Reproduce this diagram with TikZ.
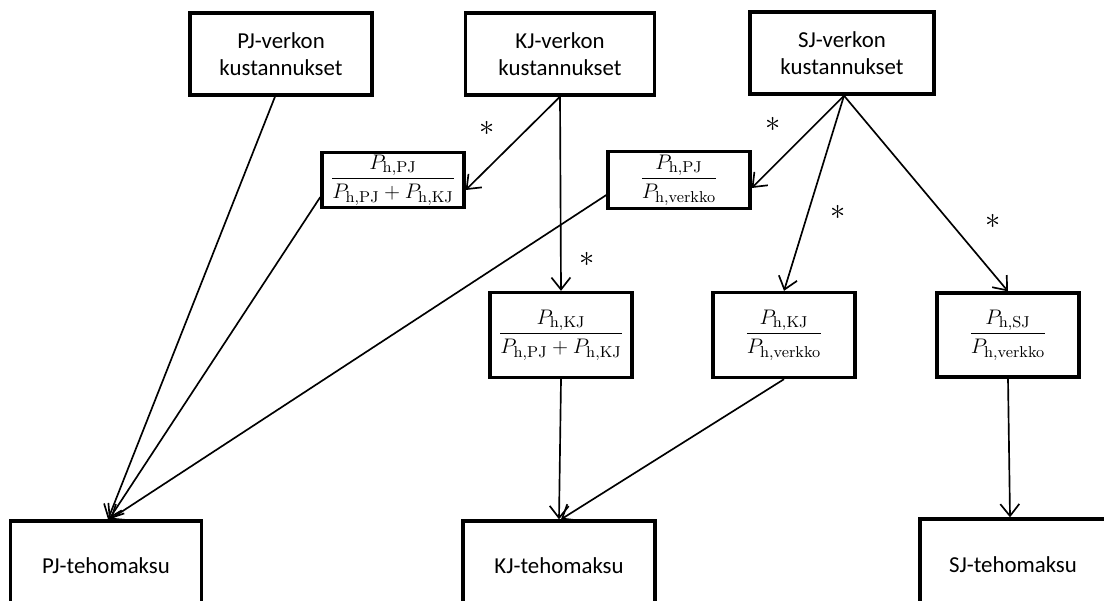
\documentclass[tikz,border=0pt]{standalone}
\usepackage[no-math]{fontspec}
\setmainfont{Carlito}
\usepackage{amsmath}
\usetikzlibrary{arrows.meta,calc}
\newdimen\pxu
\pxu=0.02cm

\begin{document}
\begin{tikzpicture}[
  x={(0.02cm,0)}, y={(0,-0.02cm)},
  every node/.style={font=\fontsize{13}{15.5}\selectfont, inner sep=1pt},
  box/.style={draw, line width=1.9pt, align=center, minimum height=82\pxu},
  fracbox/.style={draw, line width=1.9pt, minimum width=142\pxu},
  link/.style={draw, line width=0.95pt, -{Straight Barb[length=2.4mm,width=3.8mm]}},
  star/.style={font=\LARGE}
]
\clip (0,0) rectangle (1104,600);
% top row: costs
\node[box, minimum width=182\pxu] (pjcost) at (281,54) {PJ-verkon\\kustannukset};
\node[box, minimum width=189\pxu] (kjcost) at (560,54) {KJ-verkon\\kustannukset};
\node[box, minimum width=184\pxu] (sjcost) at (842,53) {SJ-verkon\\kustannukset};
% shares
\node[fracbox, minimum height=55\pxu] (pjshare) at (393,180)
  {$\dfrac{P_{\mathrm{h,PJ}}}{P_{\mathrm{h,PJ}}+P_{\mathrm{h,KJ}}}$};
\node[fracbox, minimum height=57\pxu] (pjnet) at (679,180)
  {$\dfrac{P_{\mathrm{h,PJ}}}{P_{\mathrm{h,verkko}}}$};
\node[fracbox, minimum height=85\pxu] (kjshare) at (561,335)
  {$\dfrac{P_{\mathrm{h,KJ}}}{P_{\mathrm{h,PJ}}+P_{\mathrm{h,KJ}}}$};
\node[fracbox, minimum height=85\pxu] (kjnet) at (784,335)
  {$\dfrac{P_{\mathrm{h,KJ}}}{P_{\mathrm{h,verkko}}}$};
\node[fracbox, minimum height=84\pxu] (sjnet) at (1008,335)
  {$\dfrac{P_{\mathrm{h,SJ}}}{P_{\mathrm{h,verkko}}}$};
% bottom row: fees
\node[box, minimum width=191\pxu, minimum height=90\pxu] (pjfee) at (106,566) {PJ-tehomaksu};
\node[box, minimum width=192\pxu, minimum height=90\pxu] (kjfee) at (559,566) {KJ-tehomaksu};
\node[box, minimum width=186\pxu, minimum height=92\pxu] (sjfee) at (1013,565) {SJ-tehomaksu};
% connectors
\draw[link] ($(pjcost.south)+(-6,0)$) -- ($(pjfee.north)+(2,0)$);
\draw[link] ($(pjshare.west)+(0,17)$) -- ($(pjfee.north)+(3,0)$);
\draw[link] ($(pjnet.west)+(0,15)$) -- ($(pjfee.north)+(4,0)$);
\draw[link] (kjcost.south) -- ($(pjshare.east)+(0,10)$);
\draw[link] (kjcost.south) -- (kjshare.north);
\draw[link] ($(sjcost.south)+(2,0)$) -- ($(pjnet.east)+(0,8)$);
\draw[link] ($(sjcost.south)+(2,0)$) -- (kjnet.north);
\draw[link] ($(sjcost.south)+(2,0)$) -- (sjnet.north);
\draw[link] (kjshare.south) -- (kjfee.north);
\draw[link] (kjnet.south) -- ($(kjfee.north)+(2,0)$);
\draw[link] (sjnet.south) -- ($(sjfee.north)+(-3,0)$);
% multipliers
\node[star] (m1) at (487,128) {$\ast$};
\node[star] (m2) at (587,259) {$\ast$};
\node[star] (m3) at (773,124) {$\ast$};
\node[star] (m4) at (838,212) {$\ast$};
\node[star] (m5) at (993,221) {$\ast$};
\end{tikzpicture}
\end{document}
